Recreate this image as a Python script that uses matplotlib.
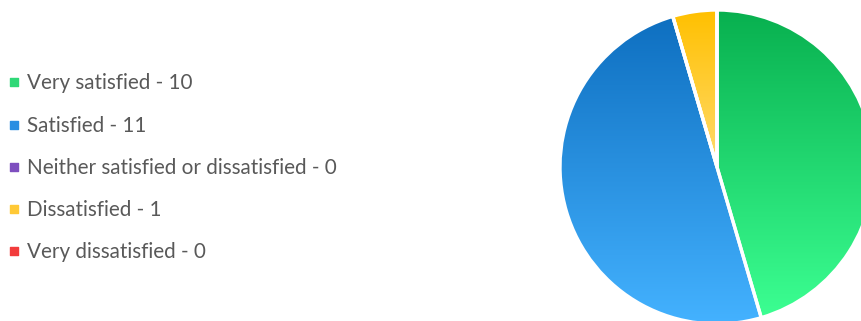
import numpy as np
import matplotlib
matplotlib.use('Agg')
import matplotlib.pyplot as plt
from matplotlib.colors import LinearSegmentedColormap

# survey answers
categories = ['Very satisfied', 'Satisfied', 'Neither satisfied or dissatisfied',
              'Dissatisfied', 'Very dissatisfied']
counts = [10, 11, 0, 1, 0]

# gradient (top, bottom) per slice, and legend swatch colours
grad_top = ['#08b04f', '#0e6fc0', '#7030a0', '#ffc000', '#e02020']
grad_bottom = ['#3cff92', '#44b2ff', '#9a6ad0', '#ffdb6e', '#ff5a5a']
swatch = ['#2fd877', '#2a8ee2', '#7e4fbf', '#ffc936', '#f23c3c']


def main():
    fig = plt.figure(figsize=(8.62, 3.21), dpi=100)
    ax = fig.add_axes([0, 0, 1, 1])
    W, H = 862, 321
    cx, cy, r = 717, H - 167, 157

    wedges, _ = ax.pie(counts, startangle=90, counterclock=False,
                       center=(cx, cy), radius=r,
                       wedgeprops=dict(facecolor='none', edgecolor='white',
                                       linewidth=2.4, zorder=3))

    # vertical gradient inside every slice
    for i, w in enumerate(wedges):
        if counts[i] == 0:
            continue
        bb = w.get_path().get_extents(w.get_patch_transform())
        cmap = LinearSegmentedColormap.from_list('g', [grad_bottom[i], grad_top[i]])
        grad = np.linspace(0, 1, 256).reshape(-1, 1)
        im = ax.imshow(grad, cmap=cmap, origin='lower', aspect='auto',
                       extent=(bb.x0, bb.x1, bb.y0, bb.y1), zorder=2)
        im.set_clip_path(w)

    # legend on the left
    row_y = [82, 125, 167, 209, 251]
    for i, (cat, n) in enumerate(zip(categories, counts)):
        y = H - row_y[i]
        ax.scatter([14], [y], marker='s', s=26, color=swatch[i], zorder=4)
        ax.text(27, y - 1.5, f'{cat} - {n}', va='center', ha='left',
                fontsize=14.9, color='#595959', family='Lato')

    ax.set_xlim(0, W)
    ax.set_ylim(0, H)
    ax.set_aspect('equal')
    ax.axis('off')
    fig.savefig('out.png', dpi=100)


if __name__ == '__main__':
    main()
